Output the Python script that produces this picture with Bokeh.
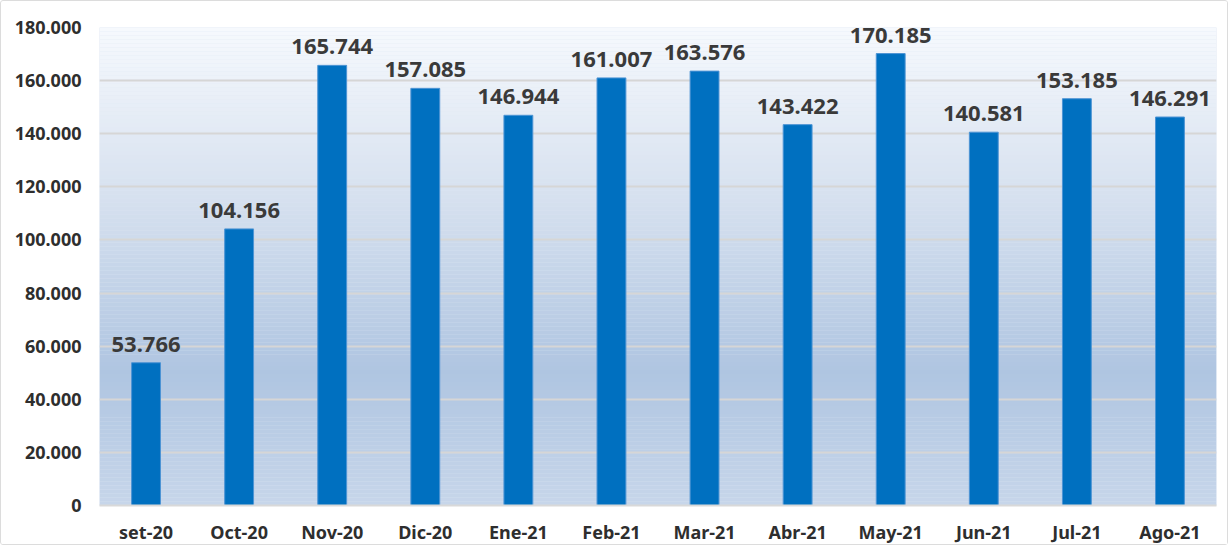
import numpy as np
from bokeh.plotting import figure
from bokeh.models import FixedTicker, CustomJSTickFormatter, ColumnDataSource
from bokeh.embed import file_html
from bokeh.resources import INLINE
from bokeh.core.properties import value

categories = ["set-20", "Oct-20", "Nov-20", "Dic-20", "Ene-21", "Feb-21",
              "Mar-21", "Abr-21", "May-21", "Jun-21", "Jul-21", "Ago-21"]
values = [53766, 104156, 165744, 157085, 146944, 161007,
          163576, 143422, 170185, 140581, 153185, 146291]
y_ticks = [0, 20000, 40000, 60000, 80000, 100000, 120000, 140000, 160000, 180000]

FONT = "Noto Sans"
n = len(categories)
xs = [i + 0.5 for i in range(n)]
labels = [f"{v:,}".replace(",", ".") for v in values]

p = figure(width=1228, height=545, output_backend="svg", toolbar_location=None,
           x_range=(0, n), y_range=(0, 180000),
           min_border_left=98, min_border_right=13, min_border_top=26, min_border_bottom=40)
p.styles = {"border": "1px solid #dcdcdc", "border-radius": "3px"}
p.outline_line_color = None
p.background_fill_color = "#dde6f2"

# background gradient of the plot area
stops = [(0.0, (199, 214, 234)), (0.28, (175, 197, 225)), (0.62, (212, 223, 238)), (1.0, (246, 249, 253))]
nstrip = 120
edges = np.linspace(0, 180000, nstrip + 1)
cols = []
for k in range(nstrip):
    f = (k + 0.5) / nstrip
    for (a, ca), (b, cb) in zip(stops[:-1], stops[1:]):
        if a <= f <= b:
            t = (f - a) / (b - a)
            c = tuple(int(round(ca[j] + (cb[j] - ca[j]) * t)) for j in range(3))
            break
    cols.append("#%02x%02x%02x" % c)
p.quad(left=0, right=n, bottom=edges[:-1], top=edges[1:], fill_color=cols,
       line_color=None, level="image")

src = ColumnDataSource(dict(x=xs, top=values, label=labels))
p.vbar(x="x", top="top", width=0.31, source=src, fill_color="#0070c0",
       line_color="#4d94d4", line_width=1)
p.text(x="x", y="top", text="label", source=src, text_align="center",
       text_baseline="bottom", y_offset=-11, text_font=value(FONT),
       text_font_size="22px", text_font_style="bold", text_color="#3a3a3a")

p.xaxis.ticker = FixedTicker(ticks=xs)
p.xaxis.major_label_overrides = {x: c for x, c in zip(xs, categories)}
p.yaxis.ticker = FixedTicker(ticks=y_ticks)
p.yaxis.formatter = CustomJSTickFormatter(
    code='return Math.round(tick).toString().replace(/\\B(?=(\\d{3})+(?!\\d))/g, ".");')

for ax in (p.xaxis, p.yaxis):
    ax.major_tick_line_color = None
    ax.minor_tick_line_color = None
    ax.major_label_text_font = FONT
    ax.major_label_text_font_size = "18px"
    ax.major_label_text_font_style = "bold"
    ax.major_label_text_color = "#2e2e2e"
p.yaxis.axis_line_color = None
p.yaxis.major_label_standoff = 12
p.xaxis.axis_line_color = "#d9d9d9"
p.xaxis.axis_line_width = 2
p.xaxis.major_label_standoff = 8

p.xgrid.grid_line_color = None
p.ygrid.grid_line_color = "#d6d6d6"
p.ygrid.grid_line_width = 2

open("out.html", "w").write(file_html(p, INLINE))
